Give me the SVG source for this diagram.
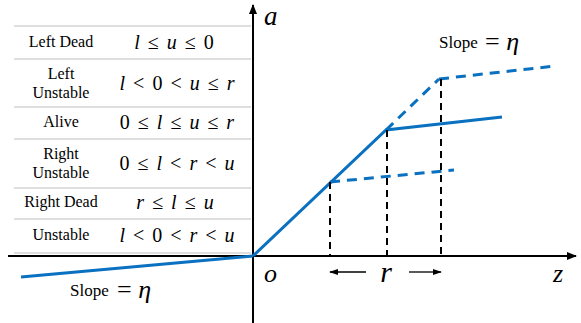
<svg xmlns="http://www.w3.org/2000/svg" width="581" height="323" viewBox="0 0 581 323">
<defs>
<marker id="ah" viewBox="0 0 10 10" refX="9" refY="5" markerWidth="5" markerHeight="5" orient="auto" markerUnits="strokeWidth"><path d="M0,1 L10,5 L0,9 z" fill="#000"/></marker>
<marker id="sa" viewBox="0 0 10 10" refX="9" refY="5" markerWidth="7" markerHeight="7" orient="auto" markerUnits="strokeWidth"><path d="M0,1.5 L10,5 L0,8.5 z" fill="#000"/></marker>
</defs>
<style>
.lbl{font-family:"Liberation Serif",serif;font-size:16px;fill:#000;text-anchor:middle}
.m{font-family:"Liberation Serif",serif;font-size:20px;fill:#000;text-anchor:middle;word-spacing:3px}
.i{font-style:italic}
.grid{stroke:#bfbfbf;stroke-width:1}
.blue{stroke:#0a70c0;stroke-width:3;fill:none}
.bd{stroke:#0a70c0;stroke-width:3;fill:none;stroke-dasharray:10,7}
.kd{stroke:#000;stroke-width:2;fill:none;stroke-dasharray:7,5}
.ax{stroke:#000;stroke-width:2;fill:none}
.big{font-family:"Liberation Serif",serif;font-style:italic;fill:#000}
</style>
<rect width="581" height="323" fill="#fff"/>
<g id="table">
<line class="grid" x1="14" y1="26" x2="251" y2="26"/>
<line class="grid" x1="14" y1="59" x2="251" y2="59"/>
<line class="grid" x1="14" y1="107" x2="251" y2="107"/>
<line class="grid" x1="14" y1="139" x2="251" y2="139"/>
<line class="grid" x1="14" y1="188" x2="251" y2="188"/>
<line class="grid" x1="14" y1="219" x2="251" y2="219"/>
<line class="grid" x1="14" y1="253" x2="251" y2="253"/>
<text class="lbl" x="61" y="47">Left Dead</text>
<text class="m" x="174" y="49"><tspan class="i">l</tspan> ≤ <tspan class="i">u</tspan> ≤ 0</text>
<text class="lbl" x="61" y="79">Left</text>
<text class="lbl" x="61" y="98">Unstable</text>
<text class="m" x="177" y="90"><tspan class="i">l</tspan> &lt; 0 &lt; <tspan class="i">u</tspan> ≤ <tspan class="i">r</tspan></text>
<text class="lbl" x="61" y="127">Alive</text>
<text class="m" x="177" y="129">0 ≤ <tspan class="i">l</tspan> ≤ <tspan class="i">u</tspan> ≤ <tspan class="i">r</tspan></text>
<text class="lbl" x="61" y="159">Right</text>
<text class="lbl" x="61" y="178">Unstable</text>
<text class="m" x="177" y="170">0 ≤ <tspan class="i">l</tspan> &lt; <tspan class="i">r</tspan> &lt; <tspan class="i">u</tspan></text>
<text class="lbl" x="61" y="207">Right Dead</text>
<text class="m" x="175" y="209"><tspan class="i">r</tspan> ≤ <tspan class="i">l</tspan> ≤ <tspan class="i">u</tspan></text>
<text class="lbl" x="61" y="240">Unstable</text>
<text class="m" x="177" y="242"><tspan class="i">l</tspan> &lt; 0 &lt; <tspan class="i">r</tspan> &lt; <tspan class="i">u</tspan></text>
</g>
<g id="axes">
<line class="ax" x1="253" y1="323" x2="253" y2="5" marker-end="url(#ah)"/>
<line class="ax" x1="8" y1="256" x2="576" y2="256" marker-end="url(#ah)"/>
<text class="big" x="264" y="25" font-size="27">a</text>
<text class="big" x="264" y="282" font-size="26">o</text>
<text class="big" x="553" y="282" font-size="26">z</text>
</g>
<g id="connectors">
<line class="blue" x1="21" y1="277" x2="253" y2="256"/>
<polyline class="blue" points="253,256 386,130 502,117"/>
<line class="bd" x1="386" y1="130" x2="439" y2="79"/>
<line class="bd" x1="439" y1="79" x2="555" y2="66"/>
<line class="bd" x1="330" y1="182" x2="454" y2="170"/>
<line class="kd" x1="330" y1="182" x2="330" y2="256"/>
<line class="kd" x1="387" y1="130" x2="387" y2="256"/>
<line class="kd" x1="441" y1="79" x2="441" y2="256"/>
<line stroke="#000" stroke-width="1.3" x1="366" y1="272" x2="330" y2="272" marker-end="url(#sa)"/>
<line stroke="#000" stroke-width="1.3" x1="409" y1="272" x2="441" y2="272" marker-end="url(#sa)"/>
<text class="big" x="386" y="282" font-size="30" text-anchor="middle">r</text>
</g>
<g id="slope-top">
<text x="439" y="48" style="font-family:'Liberation Serif',serif;font-size:17px">Slope</text>
<text x="485" y="50" style="font-family:'Liberation Serif',serif;font-size:26px">= <tspan font-style="italic">η</tspan></text>
</g>
<g id="slope-bottom">
<text x="70" y="296" style="font-family:'Liberation Serif',serif;font-size:17px">Slope</text>
<text x="117" y="298" style="font-family:'Liberation Serif',serif;font-size:26px">= <tspan font-style="italic">η</tspan></text>
</g>
</svg>
